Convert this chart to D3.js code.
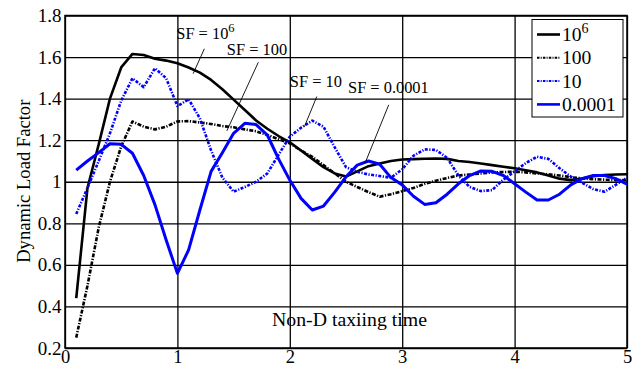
<!DOCTYPE html>
<html>
<head>
<meta charset="utf-8">
<script src="https://cdn.jsdelivr.net/npm/d3@7"></script>
<style>
  body { margin: 0; background: #fff; }
  svg text { font-family: "Liberation Serif", Tinos, "Times New Roman", Times, "DejaVu Serif", serif; fill: #000; }
</style>
</head>
<body>
<div id="chart"></div>
<script>
// x values shared by all series (non-dimensional taxiing time)
const times = d3.range(1, 51).map(i => i / 10);

const sf1e6 = [0.44, 0.97, 1.18, 1.40, 1.55, 1.615, 1.61, 1.592, 1.583, 1.57,
  1.55, 1.525, 1.49, 1.445, 1.395, 1.345, 1.295, 1.255, 1.22, 1.19,
  1.15, 1.11, 1.07, 1.04, 1.025, 1.05, 1.075, 1.088, 1.10, 1.107,
  1.109, 1.111, 1.112, 1.11, 1.10, 1.095, 1.088, 1.08, 1.072, 1.065,
  1.055, 1.045, 1.03, 1.015, 1.008, 1.015, 1.027, 1.032, 1.035, 1.036];

const sf100 = [0.25, 0.50, 0.78, 1.0, 1.17, 1.29, 1.265, 1.252, 1.265, 1.29,
  1.292, 1.285, 1.278, 1.268, 1.262, 1.252, 1.243, 1.225, 1.205, 1.185,
  1.15, 1.12, 1.08, 1.04, 1.0, 0.975, 0.95, 0.928, 0.94, 0.955,
  0.97, 0.99, 1.005, 1.018, 1.03, 1.035, 1.04, 1.045, 1.047, 1.048,
  1.045, 1.04, 1.036, 1.03, 1.022, 1.016, 1.012, 1.01, 1.008, 1.008];

const sf10 = [0.845, 0.97, 1.10, 1.233, 1.39, 1.498, 1.455, 1.546, 1.498, 1.364,
  1.397, 1.305, 1.15, 1.02, 0.952, 0.975, 1.0, 1.04, 1.13, 1.217,
  1.26, 1.294, 1.265, 1.165, 1.07, 1.048, 1.035, 1.028, 1.019, 1.06,
  1.125, 1.156, 1.153, 1.115, 1.03, 0.975, 0.955, 0.96, 1.01, 1.05,
  1.09, 1.12, 1.11, 1.065, 1.025, 0.995, 0.965, 0.952, 0.985, 1.02];

const sf00001 = [1.056, 1.10, 1.14, 1.183, 1.18, 1.137, 1.03, 0.89, 0.72, 0.559,
  0.672, 0.864, 1.05, 1.14, 1.233, 1.281, 1.275, 1.225, 1.11, 1.008,
  0.92, 0.864, 0.883, 0.95, 1.024, 1.08, 1.10, 1.084, 1.02, 0.985,
  0.93, 0.891, 0.899, 0.94, 0.99, 1.03, 1.052, 1.05, 1.03, 0.99,
  0.95, 0.912, 0.912, 0.94, 0.985, 1.015, 1.03, 1.03, 1.015, 0.988];

const xTicks = [0, 1, 2, 3, 4, 5];
const yTicks = [0.2, 0.4, 0.6, 0.8, 1, 1.2, 1.4, 1.6, 1.8];

const series = [
  { name: "10", sup: "6", values: sf1e6, color: "#000", width: 2.6, dash: null },
  { name: "100", sup: "", values: sf100, color: "#000", width: 2.6, dash: "4,1.5,1.2,1.5" },
  { name: "10", sup: "", values: sf10, color: "#0000ff", width: 2.6, dash: "3,1.5,1.2,1.5" },
  { name: "0.0001", sup: "", values: sf00001, color: "#0000ff", width: 3, dash: null }
];

// leader labels: text position in data units, leader from -> to
const notes = [
  { main: "SF = 10", sup: "6", tx: 0.99, ty: 1.689, lx1: 1.24, ly1: 1.64, lx2: 1.14, ly2: 1.52 },
  { main: "SF = 100", sup: "", tx: 1.44, ty: 1.61, lx1: 1.72, ly1: 1.575, lx2: 1.44, ly2: 1.245 },
  { main: "SF = 10", sup: "", tx: 2.0, ty: 1.457, lx1: 2.24, ly1: 1.41, lx2: 2.13, ly2: 1.265 },
  { main: "SF = 0.0001", sup: "", tx: 2.518, ty: 1.426, lx1: 2.88, ly1: 1.37, lx2: 2.67, ly2: 1.09 }
];

const width = 641, height = 368;
const margin = { top: 15.5, right: 14, bottom: 20, left: 65 };
const serif = '"Liberation Serif", Tinos, "Times New Roman", Times, "DejaVu Serif", serif';

const svg = d3.select("#chart").append("svg")
  .attr("width", width)
  .attr("height", height)
  .attr("font-family", serif);

const x = d3.scaleLinear().domain([0, 5]).range([margin.left, width - margin.right]);
const y = d3.scaleLinear().domain([0.2, 1.8]).range([height - margin.bottom, margin.top]);

// grid
svg.append("g")
  .attr("transform", `translate(0,${height - margin.bottom})`)
  .call(d3.axisBottom(x).tickValues(xTicks).tickFormat("").tickSize(-(height - margin.bottom - margin.top)))
  .call(g => g.select(".domain").remove())
  .selectAll("line").attr("stroke", "#000").attr("stroke-width", 1.3);

svg.append("g")
  .attr("transform", `translate(${margin.left},0)`)
  .call(d3.axisLeft(y).tickValues(yTicks).tickFormat("").tickSize(-(width - margin.right - margin.left)))
  .call(g => g.select(".domain").remove())
  .selectAll("line").attr("stroke", "#000").attr("stroke-width", 1.3);

// frame
svg.append("rect")
  .attr("x", margin.left).attr("y", margin.top)
  .attr("width", width - margin.right - margin.left)
  .attr("height", height - margin.bottom - margin.top)
  .attr("fill", "none").attr("stroke", "#000").attr("stroke-width", 1.5);

// tick labels
const xAxis = svg.append("g")
  .attr("transform", `translate(0,${height - margin.bottom})`)
  .call(d3.axisBottom(x).tickValues(xTicks).tickFormat(d3.format("d")).tickSize(0).tickPadding(1.5))
  .attr("font-family", serif);
xAxis.select(".domain").remove();
xAxis.selectAll("text").style("font-size", "18.5px").attr("fill", "#000");

const yAxis = svg.append("g")
  .attr("transform", `translate(${margin.left},0)`)
  .call(d3.axisLeft(y).tickValues(yTicks).tickFormat(d => d === 1 ? "1" : d3.format(".1f")(d)).tickSize(0).tickPadding(3.5))
  .attr("font-family", serif);
yAxis.select(".domain").remove();
yAxis.selectAll("text").style("font-size", "19px").attr("fill", "#000");

// axis titles
svg.append("text")
  .attr("x", 349.5).attr("y", y(0.31) + 1)
  .attr("text-anchor", "middle")
  .style("font-size", "19.8px")
  .text("Non-D taxiing time");

svg.append("text")
  .attr("transform", `translate(30,${(margin.top + height - margin.bottom) / 2 - 0.5}) rotate(-90)`)
  .attr("text-anchor", "middle")
  .style("font-size", "18.6px")
  .text("Dynamic Load Factor");

// lines
const line = d3.line()
  .x((d, i) => x(times[i]))
  .y(d => y(d));

svg.append("g").selectAll("path")
  .data(series)
  .enter().append("path")
  .attr("d", d => line(d.values))
  .attr("fill", "none")
  .attr("stroke", d => d.color)
  .attr("stroke-width", d => d.width)
  .attr("stroke-dasharray", d => d.dash)
  .attr("stroke-linejoin", "round");

// annotations
const noteG = svg.append("g");
notes.forEach(n => {
  noteG.append("line")
    .attr("x1", x(n.lx1)).attr("y1", y(n.ly1))
    .attr("x2", x(n.lx2)).attr("y2", y(n.ly2))
    .attr("stroke", "#000").attr("stroke-width", 0.9);
  const t = noteG.append("text")
    .attr("x", x(n.tx)).attr("y", y(n.ty))
    .style("font-size", "16.4px");
  t.append("tspan").text(n.main);
  if (n.sup) t.append("tspan").attr("dy", -7).style("font-size", "12.5px").text(n.sup);
});

// legend
const lg = svg.append("g").attr("transform", "translate(532,19.5)");
lg.append("rect")
  .attr("width", 91).attr("height", 97.5)
  .attr("fill", "#fff").attr("stroke", "#000").attr("stroke-width", 1);

series.forEach((s, i) => {
  const yy = 15 + i * 23.3;
  lg.append("line")
    .attr("x1", 5).attr("x2", 28).attr("y1", yy).attr("y2", yy)
    .attr("stroke", s.color)
    .attr("stroke-width", s.dash ? 2 : 2.6)
    .attr("stroke-dasharray", s.dash ? "2.5,1.2,1,1.2" : null);
  const t = lg.append("text")
    .attr("x", 30).attr("y", yy + 6.5)
    .style("font-size", "19.6px");
  t.append("tspan").text(s.name);
  if (s.sup) t.append("tspan").attr("dy", -8).style("font-size", "14px").text(s.sup);
});
</script>
</body>
</html>
